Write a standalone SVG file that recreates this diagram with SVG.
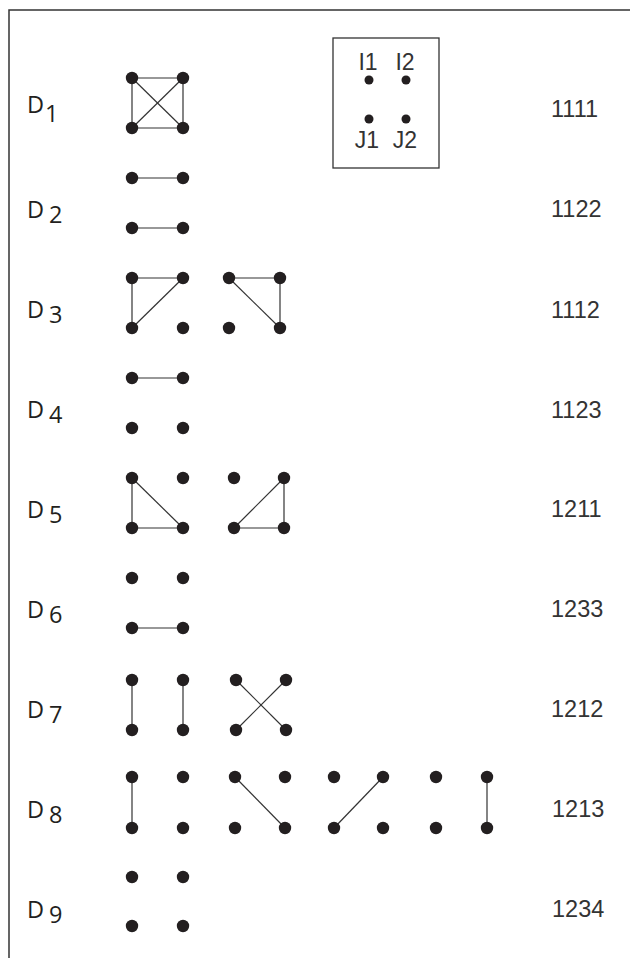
<svg xmlns="http://www.w3.org/2000/svg" width="630" height="958" viewBox="0 0 630 958">
<style>
.frame{fill:none;stroke:#333;stroke-width:1.5}
.dot{fill:#231f20}
.sdot{fill:#231f20}
.edge{stroke:#333;stroke-width:1.2;fill:none}
.dl{font-family:"Open Sans","Noto Sans",sans-serif;font-size:23.5px;fill:#231f20}
.num{font-family:"Liberation Sans",Arial,sans-serif;font-size:23.5px;fill:#333}
.leg{font-family:"Liberation Sans",Arial,sans-serif;font-size:23px;fill:#333;text-anchor:middle}
</style>
<rect width="630" height="958" fill="#fff"/>
<g id="frame">
<path class="frame" d="M9,958 V10 H630"/>
</g>
<g id="connectors">
<line class="edge" x1="132" y1="78" x2="183" y2="78"/>
<line class="edge" x1="132" y1="128" x2="183" y2="128"/>
<line class="edge" x1="132" y1="78" x2="132" y2="128"/>
<line class="edge" x1="183" y1="78" x2="183" y2="128"/>
<line class="edge" x1="132" y1="78" x2="183" y2="128"/>
<line class="edge" x1="183" y1="78" x2="132" y2="128"/>
<line class="edge" x1="132" y1="178" x2="183" y2="178"/>
<line class="edge" x1="132" y1="228" x2="183" y2="228"/>
<line class="edge" x1="132" y1="278" x2="183" y2="278"/>
<line class="edge" x1="132" y1="278" x2="132" y2="328"/>
<line class="edge" x1="183" y1="278" x2="132" y2="328"/>
<line class="edge" x1="229" y1="278" x2="280" y2="278"/>
<line class="edge" x1="280" y1="278" x2="280" y2="328"/>
<line class="edge" x1="229" y1="278" x2="280" y2="328"/>
<line class="edge" x1="132" y1="378" x2="183" y2="378"/>
<line class="edge" x1="132" y1="478" x2="132" y2="528"/>
<line class="edge" x1="132" y1="528" x2="183" y2="528"/>
<line class="edge" x1="132" y1="478" x2="183" y2="528"/>
<line class="edge" x1="284" y1="478" x2="284" y2="528"/>
<line class="edge" x1="234" y1="528" x2="284" y2="528"/>
<line class="edge" x1="284" y1="478" x2="234" y2="528"/>
<line class="edge" x1="132" y1="628" x2="183" y2="628"/>
<line class="edge" x1="132" y1="680" x2="132" y2="730"/>
<line class="edge" x1="183" y1="680" x2="183" y2="730"/>
<line class="edge" x1="236" y1="680" x2="286" y2="730"/>
<line class="edge" x1="286" y1="680" x2="236" y2="730"/>
<line class="edge" x1="132" y1="777" x2="132" y2="828"/>
<line class="edge" x1="235" y1="777" x2="285" y2="828"/>
<line class="edge" x1="383" y1="777" x2="334" y2="828"/>
<line class="edge" x1="487" y1="777" x2="487" y2="828"/>
</g>
<g id="legend">
<rect x="333" y="38" width="106" height="130" fill="none" stroke="#333" stroke-width="1.3"/>
<text class="leg" x="368" y="70">I1</text>
<text class="leg" x="405" y="70">I2</text>
<text class="leg" x="367" y="148">J1</text>
<text class="leg" x="405" y="148">J2</text>
<circle class="sdot" cx="369" cy="80" r="4.5"/>
<circle class="sdot" cx="406" cy="80" r="4.5"/>
<circle class="sdot" cx="369" cy="119" r="4.5"/>
<circle class="sdot" cx="406" cy="119" r="4.5"/>
</g>
<g id="D1">
<text class="dl" x="27" y="113">D<tspan x="45" y="122">1</tspan></text>
<circle class="dot" cx="132" cy="78" r="6.2"/><circle class="dot" cx="183" cy="78" r="6.2"/>
<circle class="dot" cx="132" cy="128" r="6.2"/><circle class="dot" cx="183" cy="128" r="6.2"/>
<text class="num" x="551" y="117">1111</text>
</g>
<g id="D2">
<text class="dl" x="27" y="218">D<tspan x="49" y="223">2</tspan></text>
<circle class="dot" cx="132" cy="178" r="6.2"/><circle class="dot" cx="183" cy="178" r="6.2"/>
<circle class="dot" cx="132" cy="228" r="6.2"/><circle class="dot" cx="183" cy="228" r="6.2"/>
<text class="num" x="551" y="217">1122</text>
</g>
<g id="D3">
<text class="dl" x="27" y="318">D<tspan x="49" y="323">3</tspan></text>
<circle class="dot" cx="132" cy="278" r="6.2"/><circle class="dot" cx="183" cy="278" r="6.2"/>
<circle class="dot" cx="132" cy="328" r="6.2"/><circle class="dot" cx="183" cy="328" r="6.2"/>
<circle class="dot" cx="229" cy="278" r="6.2"/><circle class="dot" cx="280" cy="278" r="6.2"/>
<circle class="dot" cx="229" cy="328" r="6.2"/><circle class="dot" cx="280" cy="328" r="6.2"/>
<text class="num" x="551" y="318">1112</text>
</g>
<g id="D4">
<text class="dl" x="27" y="418">D<tspan x="49" y="423">4</tspan></text>
<circle class="dot" cx="132" cy="378" r="6.2"/><circle class="dot" cx="183" cy="378" r="6.2"/>
<circle class="dot" cx="132" cy="428" r="6.2"/><circle class="dot" cx="183" cy="428" r="6.2"/>
<text class="num" x="551" y="418">1123</text>
</g>
<g id="D5">
<text class="dl" x="27" y="518">D<tspan x="49" y="523">5</tspan></text>
<circle class="dot" cx="132" cy="478" r="6.2"/><circle class="dot" cx="183" cy="478" r="6.2"/>
<circle class="dot" cx="132" cy="528" r="6.2"/><circle class="dot" cx="183" cy="528" r="6.2"/>
<circle class="dot" cx="234" cy="478" r="6.2"/><circle class="dot" cx="284" cy="478" r="6.2"/>
<circle class="dot" cx="234" cy="528" r="6.2"/><circle class="dot" cx="284" cy="528" r="6.2"/>
<text class="num" x="551" y="517">1211</text>
</g>
<g id="D6">
<text class="dl" x="27" y="618">D<tspan x="49" y="623">6</tspan></text>
<circle class="dot" cx="132" cy="578" r="6.2"/><circle class="dot" cx="183" cy="578" r="6.2"/>
<circle class="dot" cx="132" cy="628" r="6.2"/><circle class="dot" cx="183" cy="628" r="6.2"/>
<text class="num" x="551" y="617">1233</text>
</g>
<g id="D7">
<text class="dl" x="27" y="718">D<tspan x="49" y="723">7</tspan></text>
<circle class="dot" cx="132" cy="680" r="6.2"/><circle class="dot" cx="183" cy="680" r="6.2"/>
<circle class="dot" cx="132" cy="730" r="6.2"/><circle class="dot" cx="183" cy="730" r="6.2"/>
<circle class="dot" cx="236" cy="680" r="6.2"/><circle class="dot" cx="286" cy="680" r="6.2"/>
<circle class="dot" cx="236" cy="730" r="6.2"/><circle class="dot" cx="286" cy="730" r="6.2"/>
<text class="num" x="551" y="717">1212</text>
</g>
<g id="D8">
<text class="dl" x="27" y="818">D<tspan x="49" y="823">8</tspan></text>
<circle class="dot" cx="132" cy="777" r="6.2"/><circle class="dot" cx="183" cy="777" r="6.2"/>
<circle class="dot" cx="132" cy="828" r="6.2"/><circle class="dot" cx="183" cy="828" r="6.2"/>
<circle class="dot" cx="235" cy="777" r="6.2"/><circle class="dot" cx="285" cy="777" r="6.2"/>
<circle class="dot" cx="235" cy="828" r="6.2"/><circle class="dot" cx="285" cy="828" r="6.2"/>
<circle class="dot" cx="334" cy="777" r="6.2"/><circle class="dot" cx="383" cy="777" r="6.2"/>
<circle class="dot" cx="334" cy="828" r="6.2"/><circle class="dot" cx="383" cy="828" r="6.2"/>
<circle class="dot" cx="436" cy="777" r="6.2"/><circle class="dot" cx="487" cy="777" r="6.2"/>
<circle class="dot" cx="436" cy="828" r="6.2"/><circle class="dot" cx="487" cy="828" r="6.2"/>
<text class="num" x="552" y="817">1213</text>
</g>
<g id="D9">
<text class="dl" x="27" y="918">D<tspan x="49" y="923">9</tspan></text>
<circle class="dot" cx="132" cy="877" r="6.2"/><circle class="dot" cx="183" cy="877" r="6.2"/>
<circle class="dot" cx="132" cy="926" r="6.2"/><circle class="dot" cx="183" cy="926" r="6.2"/>
<text class="num" x="552" y="917">1234</text>
</g>
</svg>
